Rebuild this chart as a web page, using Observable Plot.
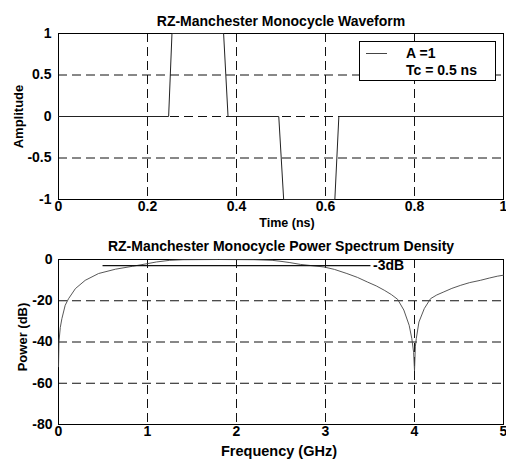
<!DOCTYPE html>
<html><head><meta charset="utf-8">
<script src="https://cdn.jsdelivr.net/npm/d3@7"></script>
<script src="https://cdn.jsdelivr.net/npm/@observablehq/plot@0.6"></script>
<style>
body{margin:0;background:#fff}
#c{width:506px;height:460px;overflow:hidden}
svg{display:block}
</style>
</head><body><div id="c"></div>
<script>
// ---- data ----
const waveTitle = "RZ-Manchester Monocycle Waveform";
const waveXLabel = "Time (ns)";
const waveYLabel = "Amplitude";
const timeNs    = [0, 0.2475, 0.255, 0.371, 0.381, 0.495, 0.506, 0.621, 0.630, 1];
const amplitude = [0, 0,      1,     1,     0,     0,     -1,    -1,    0,     0];
const timeTicks = [0, 0.2, 0.4, 0.6, 0.8, 1];
const ampTicks  = [-1, -0.5, 0, 0.5, 1];
const timeGrid  = [0.2, 0.4, 0.6, 0.8];
const ampGrid   = [-0.5, 0, 0.5];
const legendLines = ["A =1", "Tc = 0.5 ns"];

const psdTitle = "RZ-Manchester Monocycle Power Spectrum Density";
const psdXLabel = "Frequency (GHz)";
const psdYLabel = "Power (dB)";
const freqGHz = [0, 0.005, 0.02, 0.038, 0.075, 0.113, 0.19, 0.30, 0.45, 0.64, 0.83, 1.0, 1.1, 1.25, 1.4, 1.8, 2.2, 2.4, 2.5, 2.6, 2.72, 2.85, 2.98, 3.1, 3.24, 3.36, 3.47, 3.57, 3.66, 3.74, 3.81, 3.88, 3.94, 3.97, 3.99, 4.0, 4.01, 4.02, 4.05, 4.11, 4.18, 4.25, 4.33, 4.42, 4.52, 4.62, 4.74, 4.84, 4.93, 5.0];
const powerDb = [-52, -40, -33, -28.7, -22.2, -19.0, -14.1, -10.1, -6.8, -4.7, -3.3, -2.0, -1.2, -0.4, -0.1, 0, -0.1, -0.4, -0.9, -1.5, -2.4, -3.0, -3.6, -4.8, -6.8, -8.7, -10.9, -12.8, -14.9, -17.0, -19.3, -24.5, -31.9, -38.4, -45, -54, -42, -38.4, -30.3, -23.8, -19.0, -17.2, -15.7, -14.0, -12.5, -11.2, -10.1, -9.0, -8.1, -7.6];
const freqTicks  = [0, 1, 2, 3, 4, 5];
const powerTicks = [-80, -60, -40, -20, 0];
const freqGrid   = [1, 2, 3, 4];
const powerGrid  = [-60, -40, -20];
const refFreq  = [0.5, 3.5];
const refLevel = [-3, -3];
const refLabel = ["-3dB"];

// ---- helpers ----
const FONT = "'Liberation Sans', Arial, Helvetica, sans-serif";
const gridStyle = {stroke: "#111", strokeWidth: 1, strokeDasharray: "9,5"};
const fmt = d => String(d);

const wave = timeNs.map((t, i) => ({t, a: amplitude[i]}));
const psd = freqGHz.map((f, i) => ({f, p: powerDb[i]}));
const ref = refFreq.map((f, i) => ({f, p: refLevel[i]}));

const topPlot = Plot.plot({
  width: 506, height: 232,
  marginTop: 33, marginBottom: 33, marginLeft: 58, marginRight: 3,
  style: {fontFamily: FONT, fontSize: "14px", fontWeight: "bold", color: "black", background: "white", overflow: "visible"},
  x: {domain: [0, 1]},
  y: {domain: [-1, 1]},
  marks: [
    Plot.ruleX(timeGrid, gridStyle),
    Plot.ruleY(ampGrid, gridStyle),
    Plot.frame({stroke: "black", strokeWidth: 1}),
    Plot.line(wave, {x: "t", y: "a", stroke: "#222", strokeWidth: 1}),
    Plot.axisX({ticks: timeTicks, tickFormat: fmt, tickSize: 0, tickPadding: 2, label: null, fontSize: 14}),
    Plot.axisY({ticks: ampTicks, tickFormat: fmt, tickSize: 0, tickPadding: 7, label: null, fontSize: 14}),
    Plot.text([waveTitle], {frameAnchor: "top", lineAnchor: "bottom", dy: -8, fontSize: 14, fontWeight: "bold"}),
    Plot.text([waveXLabel], {frameAnchor: "bottom", textAnchor: "middle", lineAnchor: "bottom", dy: 27.5, dx: 6, fontSize: 12.5, fontWeight: "bold"}),
    Plot.text([waveYLabel], {frameAnchor: "left", textAnchor: "middle", rotate: -90, lineAnchor: "middle", dx: -40, fontSize: 13, fontWeight: "bold"})
  ]
});

const bottomPlot = Plot.plot({
  width: 506, height: 228,
  marginTop: 27, marginBottom: 36, marginLeft: 58, marginRight: 3,
  style: {fontFamily: FONT, fontSize: "14px", fontWeight: "bold", color: "black", background: "white", overflow: "visible"},
  x: {domain: [0, 5]},
  y: {domain: [-80, 0]},
  marks: [
    Plot.ruleX(freqGrid, gridStyle),
    Plot.ruleY(powerGrid, gridStyle),
    Plot.frame({stroke: "black", strokeWidth: 1}),
    Plot.line(psd, {x: "f", y: "p", stroke: "#444", strokeWidth: 0.9}),
    Plot.line(ref, {x: "f", y: "p", stroke: "#111", strokeWidth: 1.2}),
    Plot.text(refLabel, {x: () => refFreq[1], y: () => refLevel[0], textAnchor: "start", lineAnchor: "middle", dx: 3, dy: 0, fontSize: 14, fontWeight: "bold"}),
    Plot.axisX({ticks: freqTicks, tickFormat: fmt, tickSize: 0, tickPadding: 2, label: null, fontSize: 14}),
    Plot.axisY({ticks: powerTicks, tickFormat: fmt, tickSize: 0, tickPadding: 6, label: null, fontSize: 14}),
    Plot.text([psdTitle], {frameAnchor: "top", lineAnchor: "bottom", dy: -9, fontSize: 14, fontWeight: "bold"}),
    Plot.text([psdXLabel], {frameAnchor: "bottom", textAnchor: "middle", lineAnchor: "bottom", dy: 31, dx: -2, fontSize: 14.5, fontWeight: "bold"}),
    Plot.text([psdYLabel], {frameAnchor: "left", textAnchor: "middle", rotate: -90, lineAnchor: "middle", dx: -36, dy: -5, fontSize: 13, fontWeight: "bold"})
  ]
});

document.getElementById("c").append(topPlot, bottomPlot);

// legend box in the waveform panel
const g = d3.select(topPlot).append("g").attr("font-family", FONT).attr("font-weight", "bold")
  .attr("font-size", 14).attr("text-anchor", "start");
g.append("rect").attr("x", 359.5).attr("y", 41.5).attr("width", 136).attr("height", 39)
  .attr("fill", "white").attr("stroke", "black").attr("stroke-width", 1);
g.append("line").attr("x1", 366).attr("x2", 387).attr("y1", 53.5).attr("y2", 53.5)
  .attr("stroke", "#444").attr("stroke-width", 1);
g.selectAll("text.lg").data(legendLines).join("text").attr("class", "lg")
  .attr("x", 406).attr("y", (d, i) => 57.5 + i * 17).attr("fill", "black").text(d => d);
</script>
</body></html>
